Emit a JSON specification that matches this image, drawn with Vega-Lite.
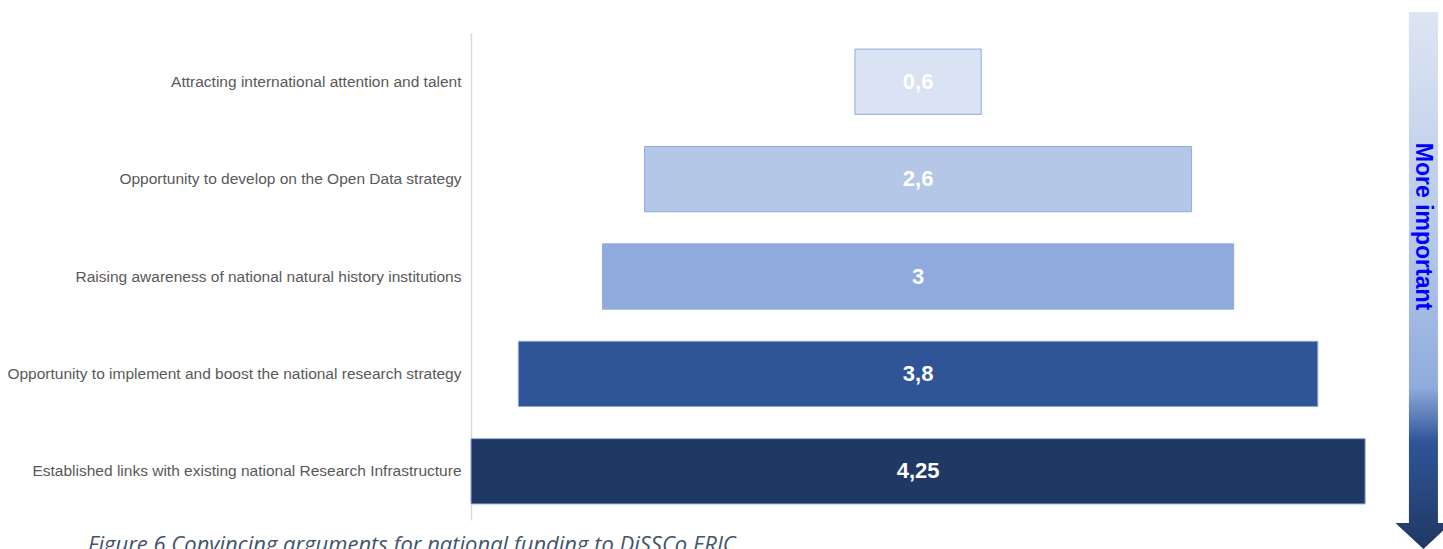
{
  "$schema": "https://vega.github.io/schema/vega-lite/v6.json",
  "width": 972,
  "height": 487,
  "autosize": {"type": "none"},
  "padding": {"left": 471, "top": 33, "right": 0, "bottom": 29},
  "background": "white",
  "config": {"view": {"stroke": null}},
  "title": {
    "text": "Figure 6 Convincing arguments for national funding to DiSSCo ERIC",
    "orient": "bottom",
    "anchor": "start",
    "frame": "group",
    "dx": -383,
    "offset": -14,
    "font": "Open Sans",
    "fontStyle": "italic",
    "fontWeight": "normal",
    "fontSize": 22,
    "color": "#44546a"
  },
  "datasets": {
    "bars": [
      {"argument": "Attracting international attention and talent", "score": 0.6, "label": "0,6"},
      {"argument": "Opportunity to develop on the Open Data strategy", "score": 2.6, "label": "2,6"},
      {"argument": "Raising awareness of national natural history institutions", "score": 3, "label": "3"},
      {"argument": "Opportunity to implement and boost the national research strategy", "score": 3.8, "label": "3,8"},
      {"argument": "Established links with existing national Research Infrastructure", "score": 4.25, "label": "4,25"}
    ],
    "note": [{"note": "More important"}]
  },
  "layer": [
    {
      "data": {"name": "bars"},
      "mark": {"type": "bar", "stroke": "#8faadc", "strokeWidth": 1},
      "encoding": {
        "x": {"field": "score", "type": "quantitative", "stack": "center", "scale": {"domain": [0, 4.62], "nice": false, "zero": false}, "axis": null},
        "y": {
          "field": "argument", "type": "nominal",
          "sort": ["Attracting international attention and talent", "Opportunity to develop on the Open Data strategy", "Raising awareness of national natural history institutions", "Opportunity to implement and boost the national research strategy", "Established links with existing national Research Infrastructure"],
          "scale": {"paddingInner": 0.33, "paddingOuter": 0.165},
          "axis": {"title": null, "ticks": false, "grid": false, "domainColor": "#d9d9d9", "domainWidth": 1.5, "labelFont": "Liberation Sans", "labelFontSize": 15.5, "labelColor": "#595959", "labelPadding": 10, "labelLimit": 600}
        },
        "color": {
          "field": "argument", "type": "nominal", "legend": null,
          "scale": {
            "domain": ["Attracting international attention and talent", "Opportunity to develop on the Open Data strategy", "Raising awareness of national natural history institutions", "Opportunity to implement and boost the national research strategy", "Established links with existing national Research Infrastructure"],
            "range": ["#dae3f3", "#b4c7e7", "#8faadc", "#2f5597", "#203864"]
          }
        }
      }
    },
    {
      "data": {"name": "bars"},
      "mark": {"type": "text", "font": "Liberation Sans", "fontWeight": "bold", "fontSize": 22, "color": "#ffffff", "align": "center", "baseline": "middle"},
      "encoding": {
        "x": {"datum": 2.125, "type": "quantitative"},
        "y": {"field": "argument", "type": "nominal", "sort": ["Attracting international attention and talent", "Opportunity to develop on the Open Data strategy", "Raising awareness of national natural history institutions", "Opportunity to implement and boost the national research strategy", "Established links with existing national Research Infrastructure"]},
        "text": {"field": "label"}
      }
    },
    {
      "data": {"name": "note"},
      "mark": {
        "type": "point",
        "filled": true,
        "opacity": 1,
        "strokeWidth": 0,
        "size": 297025,
        "shape": "M-0.0532,-0.9706 L0.0532,-0.9706 L0.0532,0.9046 L0.1028,0.9046 L0,1 L-0.1028,0.9046 L-0.0532,0.9046 Z",
        "fill": {
          "gradient": "linear", "x1": 0, "y1": 0, "x2": 0, "y2": 1,
          "stops": [
            {"offset": 0, "color": "#dde5f3"},
            {"offset": 0.44, "color": "#b4c7e7"},
            {"offset": 0.7, "color": "#8faadc"},
            {"offset": 0.8, "color": "#2f5597"},
            {"offset": 1, "color": "#203864"}
          ]
        }
      },
      "encoding": {
        "x": {"datum": 4.527, "type": "quantitative"},
        "y": {"datum": "Raising awareness of national natural history institutions", "type": "nominal"}
      }
    },
    {
      "data": {"name": "note"},
      "mark": {"type": "text", "angle": 90, "font": "Liberation Sans", "fontWeight": "bold", "fontSize": 23, "color": "#0000ff", "align": "center", "baseline": "middle", "dx": -50},
      "encoding": {
        "x": {"datum": 4.527, "type": "quantitative"},
        "y": {"datum": "Raising awareness of national natural history institutions", "type": "nominal"},
        "text": {"field": "note"}
      }
    }
  ]
}
